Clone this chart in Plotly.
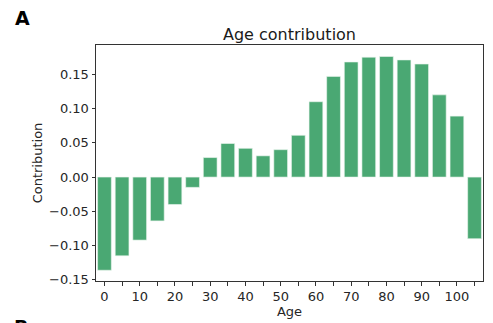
import plotly.graph_objects as go

ages = list(range(0, 110, 5))
contrib = [-0.136, -0.115, -0.092, -0.064, -0.040, -0.015, 0.0285, 0.049, 0.042, 0.031,
           0.040, 0.061, 0.110, 0.147, 0.168, 0.175, 0.176, 0.171, 0.165, 0.120, 0.089, -0.090]
ytick_vals = [-0.15, -0.10, -0.05, 0.0, 0.05, 0.10, 0.15]
ytick_text = ["\u22120.15", "\u22120.10", "\u22120.05", "0.00", "0.05", "0.10", "0.15"]
xtick_vals = ages
xtick_text = [str(a) if a % 10 == 0 else "" for a in ages]

W, H = 493, 323
L, R, T, B = 96, 9, 45, 40
pw, ph = W - L - R, H - T - B

fig = go.Figure()
fig.add_trace(go.Bar(x=ages, y=contrib, width=3.9,
                     marker=dict(color="rgb(74,168,115)", line=dict(color="rgba(235,245,238,1)", width=0.6))))

font = "DejaVu Sans"
fig.update_layout(
    width=W, height=H,
    margin=dict(l=L, r=R, t=T, b=B),
    plot_bgcolor="white", paper_bgcolor="white",
    showlegend=False,
    font=dict(family=font, size=13, color="#262626"),
    title=dict(text="Age contribution", x=0.5, xref="paper", xanchor="center",
               y=1 - 34 / H, yref="container", yanchor="middle",
               font=dict(family=font, size=16, color="#1a1a1a")),
)
fig.update_xaxes(range=[-2.4, 107.4], tickvals=xtick_vals, ticktext=xtick_text,
                 ticks="outside", ticklen=3.5, tickwidth=0.8, tickcolor="#333",
                 showline=True, linecolor="#333", linewidth=1, mirror=True,
                 showgrid=False, zeroline=False, tickfont=dict(size=13),
                 title=dict(text="Age", font=dict(family=font, size=13), standoff=1))
fig.update_yaxes(range=[-0.1517, 0.1928], tickvals=ytick_vals, ticktext=ytick_text,
                 ticks="outside", ticklen=3.5, tickwidth=0.8, tickcolor="#333",
                 showline=True, linecolor="#333", linewidth=1, mirror=True,
                 showgrid=False, zeroline=False, tickfont=dict(size=13),
                 title=dict(text="Contribution", font=dict(family=font, size=13), standoff=3))
fig.add_annotation(text="<b>A</b>", x=(13 - L) / pw, y=1 + (T - 18) / ph, xref="paper", yref="paper",
                   showarrow=False, xanchor="left", yanchor="middle",
                   font=dict(family=font, size=19, color="black"))
fig.add_annotation(text="<b>B</b>", x=(12 - L) / pw, y=-(316 - (H - B)) / ph, xref="paper", yref="paper",
                   showarrow=False, xanchor="left", yanchor="top",
                   font=dict(family=font, size=19, color="black"))
fig.write_html("out.html")
